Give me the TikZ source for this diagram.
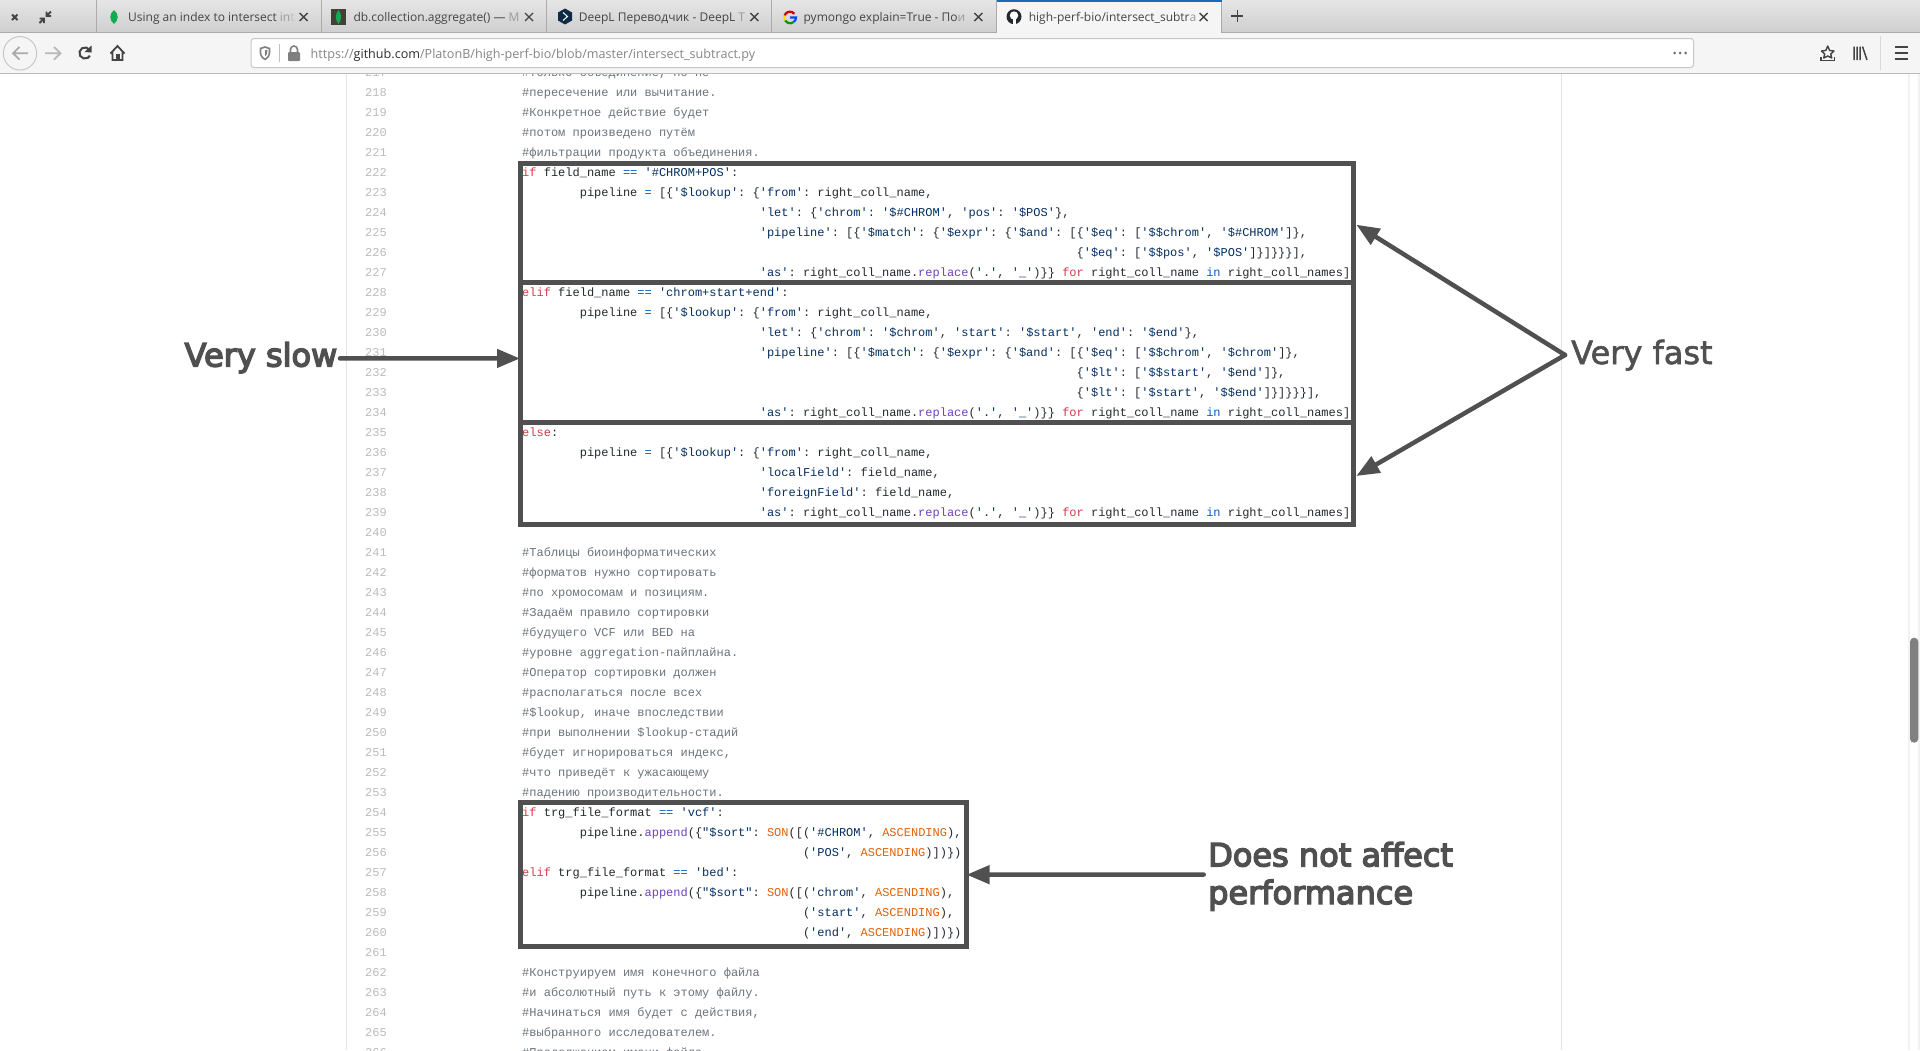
\documentclass[tikz,border=0pt]{standalone}
\usepackage{fontspec}
\usetikzlibrary{arrows.meta}
\newfontfamily\codefont{Liberation Mono}
\newfontfamily\uifont{Open Sans}
\newfontfamily\notefont[RawFeature={embolden=1.8}]{DejaVu Sans}
\newfontfamily\noteboldfont[RawFeature={embolden=4.5}]{DejaVu Sans}
\definecolor{notegray}{HTML}{505050}
\definecolor{keyred}{HTML}{D73A49}
\definecolor{opblue}{HTML}{005CC5}
\definecolor{strnavy}{HTML}{032F62}
\definecolor{fnpurple}{HTML}{6F42C1}
\definecolor{sonorange}{HTML}{E36209}
\definecolor{plaincode}{HTML}{24292E}
\definecolor{remgray}{HTML}{6A737D}
\definecolor{numgray}{HTML}{BBBCBD}
\definecolor{edgegray}{HTML}{E1E4E8}
\definecolor{barlight}{HTML}{F5F5F5}
\definecolor{stripedge}{HTML}{ABABAB}
\definecolor{uidark}{HTML}{444444}
\definecolor{leafgreen}{HTML}{13AA52}
\definecolor{deepnavy}{HTML}{0F2B46}
\newcommand{\kwd}[1]{\textcolor{keyred}{#1}}
\newcommand{\opr}[1]{\textcolor{opblue}{#1}}
\newcommand{\str}[1]{\textcolor{strnavy}{#1}}
\newcommand{\fnc}[1]{\textcolor{fnpurple}{#1}}
\newcommand{\son}[1]{\textcolor{sonorange}{#1}}
\newcommand{\fadeA}[1]{\textcolor{black!40}{#1}}
\newcommand{\fadeB}[1]{\textcolor{black!25}{#1}}
\newcommand{\aslinetext}{\str{'as'}: right\_coll\_name.\fnc{replace}(\str{'.'}, \str{'\_'})\}\} \kwd{for} right\_coll\_name \opr{in} right\_coll\_names]}
\newcommand{\pipelinetext}{pipeline \opr{=} [\{\str{'\$lookup'}: \{\str{'from'}: right\_coll\_name,}
\newcommand{\codeat}[3]{\node[codeline] (line#1) at ({522+7.2*#2},{176.6+20*(#1-222)}) {#3};}
\tikzset{
    codeline/.style={anchor=base west, inner sep=0pt, text=plaincode, font=\codefont\fontsize{12}{14}\selectfont\frenchspacing},
    remline/.style={codeline, text=remgray},
    numline/.style={anchor=base east, inner sep=0pt, text=numgray, font=\codefont\fontsize{12}{14}\selectfont},
    codebox/.style={draw=notegray, line width=5pt, inner sep=0pt},
    notearrow/.style={draw=notegray, line width=4.5pt, line cap=round, -{Triangle[length=23pt, width=18pt]}},
    notelabel/.style={inner sep=0pt, text=notegray, align=left},
    tabtitle/.style={anchor=base west, inner sep=0pt, text=uidark, font=\uifont\fontsize{12}{14}\selectfont},
    closemark/.style={draw=uidark, line width=1.4pt},
    tooltrace/.style={draw=uidark, line width=1.8pt},
}
\begin{document}
\begin{tikzpicture}[x=1pt, y=-1pt]
    \useasboundingbox (0,0) rectangle (1920,1050);
    \clip (0,0) rectangle (1920,1050);
    \fill[white] (0,0) rectangle (1920,1050);
    \draw[edgegray, line width=1pt] (346.5,70) -- (346.5,1050);
    \draw[edgegray, line width=1pt] (1561,70) -- (1561,1050);

    \foreach \n in {217,...,266}
        \node[numline] (num\n) at (387,{176.6+20*(\n-222)}) {\n};

    \foreach \n/\t in {217/{\#только объединение, но не},
                       218/{\#пересечение или вычитание.},
                       219/{\#Конкретное действие будет},
                       220/{\#потом произведено путём},
                       221/{\#фильтрации продукта объединения.},
                       241/{\#Таблицы биоинформатических},
                       242/{\#форматов нужно сортировать},
                       243/{\#по хромосомам и позициям.},
                       244/{\#Задаём правило сортировки},
                       245/{\#будущего VCF или BED на},
                       246/{\#уровне aggregation-пайплайна.},
                       247/{\#Оператор сортировки должен},
                       248/{\#располагаться после всех},
                       249/{\#\$lookup, иначе впоследствии},
                       250/{\#при выполнении \$lookup-стадий},
                       251/{\#будет игнорироваться индекс,},
                       252/{\#что приведёт к ужасающему},
                       253/{\#падению производительности.},
                       262/{\#Конструируем имя конечного файла},
                       263/{\#и абсолютный путь к этому файлу.},
                       264/{\#Начинаться имя будет с действия,},
                       265/{\#выбранного исследователем.},
                       266/{\#Продолжением имени файла}}
        \node[remline] (line\n) at (522,{176.6+20*(\n-222)}) {\t};

    \codeat{222}{0}{\kwd{if} field\_name \opr{==} \str{'\#CHROM+POS'}:}
    \codeat{223}{8}{\pipelinetext}
    \codeat{224}{33}{\str{'let'}: \{\str{'chrom'}: \str{'\$\#CHROM'}, \str{'pos'}: \str{'\$POS'}\},}
    \codeat{225}{33}{\str{'pipeline'}: [\{\str{'\$match'}: \{\str{'\$expr'}: \{\str{'\$and'}: [\{\str{'\$eq'}: [\str{'\$\$chrom'}, \str{'\$\#CHROM'}]\},}
    \codeat{226}{77}{\{\str{'\$eq'}: [\str{'\$\$pos'}, \str{'\$POS'}]\}]\}\}\}],}
    \codeat{227}{33}{\aslinetext}
    \codeat{228}{0}{\kwd{elif} field\_name \opr{==} \str{'chrom+start+end'}:}
    \codeat{229}{8}{\pipelinetext}
    \codeat{230}{33}{\str{'let'}: \{\str{'chrom'}: \str{'\$chrom'}, \str{'start'}: \str{'\$start'}, \str{'end'}: \str{'\$end'}\},}
    \codeat{231}{33}{\str{'pipeline'}: [\{\str{'\$match'}: \{\str{'\$expr'}: \{\str{'\$and'}: [\{\str{'\$eq'}: [\str{'\$\$chrom'}, \str{'\$chrom'}]\},}
    \codeat{232}{77}{\{\str{'\$lt'}: [\str{'\$\$start'}, \str{'\$end'}]\},}
    \codeat{233}{77}{\{\str{'\$lt'}: [\str{'\$start'}, \str{'\$\$end'}]\}]\}\}\}],}
    \codeat{234}{33}{\aslinetext}
    \codeat{235}{0}{\kwd{else}:}
    \codeat{236}{8}{\pipelinetext}
    \codeat{237}{33}{\str{'localField'}: field\_name,}
    \codeat{238}{33}{\str{'foreignField'}: field\_name,}
    \codeat{239}{33}{\aslinetext}
    \codeat{254}{0}{\kwd{if} trg\_file\_format \opr{==} \str{'vcf'}:}
    \codeat{255}{8}{pipeline.\fnc{append}(\{\str{"\$sort"}: \son{SON}([(\str{'\#CHROM'}, \son{ASCENDING}),}
    \codeat{256}{39}{(\str{'POS'}, \son{ASCENDING})])\})}
    \codeat{257}{0}{\kwd{elif} trg\_file\_format \opr{==} \str{'bed'}:}
    \codeat{258}{8}{pipeline.\fnc{append}(\{\str{"\$sort"}: \son{SON}([(\str{'chrom'}, \son{ASCENDING}),}
    \codeat{259}{39}{(\str{'start'}, \son{ASCENDING}),}
    \codeat{260}{39}{(\str{'end'}, \son{ASCENDING})])\})}

    \node[codebox, minimum width=833.5pt, minimum height=119.5pt] (fastboxA) at (936.75,222.75) {};
    \node[codebox, minimum width=833.5pt, minimum height=139.5pt] (slowbox) at (936.75,352.25) {};
    \node[codebox, minimum width=833.5pt, minimum height=102pt] (fastboxB) at (936.75,473) {};
    \node[codebox, minimum width=446.5pt, minimum height=144pt] (sortbox) at (743.25,874) {};

    \node[notelabel, anchor=base east, font=\noteboldfont\fontsize{32}{38}\selectfont] (slowlabel) at (337.5,366.5) {Very slow};
    \node[notelabel, anchor=base west, font=\notefont\fontsize{32}{38}\selectfont] (fastlabel) at (1571,364) {Very fast};
    \node[notelabel, anchor=base west, font=\noteboldfont\fontsize{32}{37.7}\selectfont] (sortlabel) at (1208,904) {Does not affect\\performance};

    \draw[notearrow] ([xshift=2.5pt, yshift=-.7pt]slowlabel.east) -- ([xshift=2.5pt, yshift=-6.2pt]slowbox.west);
    \coordinate (fastjoin) at (1565,355);
    \draw[notearrow] (fastjoin) -- ([xshift=.3pt, yshift=-1.9pt]fastboxA.east);
    \draw[notearrow] (fastjoin) -- ([xshift=.3pt, yshift=-3pt]fastboxB.east);
    \draw[notearrow] ([xshift=-4.3pt, yshift=1.8pt]sortlabel.west) -- ([xshift=-2.5pt, yshift=-.7pt]sortbox.east);

    \fill[barlight] (0,33) rectangle (1920,73);
    \draw[stripedge!80, line width=1pt] (0,73.5) -- (1920,73.5);
    \shade[top color=black!10, bottom color=black!19] (0,0) rectangle (1920,32.5);
    \draw[stripedge, line width=1pt] (0,32.5) -- (1920,32.5);
    \foreach \sx in {96,321.5,546.5,771.5}
        \draw[stripedge, line width=.8pt] (\sx,0) -- (\sx,32);
    \fill[barlight] (996.5,0) rectangle (1221.5,33);
    \draw[stripedge, line width=.8pt] (996.5,0) -- (996.5,33);
    \draw[stripedge, line width=.8pt] (1221.5,0) -- (1221.5,33);
    \fill[blue!50!cyan!70!black!90] (996.5,0) rectangle (1221.5,2);

    \node[tabtitle] (tabA) at (128,21) {Using an index to intersect \fadeA{i}\fadeA{n}\fadeB{t}};
    \node[tabtitle] (tabB) at (353.3,21) {db.collection.aggregate() — \fadeA{M}};
    \node[tabtitle] (tabC) at (578.7,21) {DeepL Переводчик - DeepL \fadeA{T}};
    \node[tabtitle] (tabD) at (803.4,21) {pymongo explain=True - По\fadeA{и}};
    \node[tabtitle] (tabE) at (1028.6,21) {high-perf-bio/intersect\_subtr\fadeA{a}};

    \foreach \cx in {303.7,529,754.4,978.4,1203.7}
        \draw[closemark, shift={(\cx,17)}] (-4,-4) -- (4,4) (-4,4) -- (4,-4);
    \draw[tooltrace, line width=1.5pt] (1237.4,10) -- (1237.4,22) (1231.4,16) -- (1243.4,16);
    \draw[tooltrace, line width=2pt] (12,14.5) -- (17.5,20) (12,20) -- (17.5,14.5);
    \draw[tooltrace] (51,11.5) -- (46.5,16) (46.5,11.5) -- (46.5,16) -- (51,16);
    \draw[tooltrace] (39.5,23) -- (44,18.5) (39.5,18.5) -- (44,18.5) -- (44,23);

    \fill[leafgreen] (114,10) .. controls (119,14) and (119,20) .. (114,24) .. controls (109,20) and (109,14) .. (114,10);
    \fill[black!85!yellow] (331,9) rectangle (346,25);
    \fill[leafgreen] (338.5,10) .. controls (342,14) and (342,20) .. (338.5,24) .. controls (335,20) and (335,14) .. (338.5,10);
    \fill[deepnavy] (565,8.5) -- (572,12.5) -- (572,20.5) -- (565,24.5) -- (558,20.5) -- (558,12.5) -- cycle;
    \draw[white, line width=1pt] (563,12.5) -- (567.5,16.5) -- (563,20.5);
    \draw[red!80!black, line width=2.2pt] (790,17.5) ++(200:5.8) arc (200:320:5.8);
    \draw[blue!70!cyan, line width=2.2pt] (790,17.5) -- (796,17.5) arc (0:50:5.8);
    \draw[green!60!black, line width=2.2pt] (790,17.5) ++(50:5.8) arc (50:150:5.8);
    \draw[yellow!80!orange, line width=2.2pt] (790,17.5) ++(150:5.8) arc (150:200:5.8);
    \fill[plaincode] (1014,16.7) circle (7.5);
    \fill[white] (1014,15.5) circle (4.2);
    \fill[white] (1012.5,18) rectangle (1015.5,24.5);

    \fill[white, draw=black!22, line width=1pt, rounded corners=3pt] (251,38.5) rectangle (1693.5,67.5);
    \fill[barlight, draw=black!22, line width=1pt] (20,53.3) circle (16.7);
    \draw[black!33, line width=1.8pt] (28,53.3) -- (13,53.3) (19.5,47) -- (13,53.3) -- (19.5,59.6);
    \draw[black!28, line width=1.8pt] (45,53.3) -- (60.5,53.3) (54,47) -- (60.5,53.3) -- (54,59.6);
    \draw[tooltrace, line width=2pt] (85,53) ++(-30:5.6) arc (-30:-330:5.6);
    \fill[uidark] (91.5,45.5) -- (91.5,52.5) -- (84.5,52) -- cycle;
    \draw[tooltrace, line join=miter] (110.5,53.5) -- (117.5,46) -- (124.5,53.5) (112.5,52) -- (112.5,60) -- (122.5,60) -- (122.5,52);
    \fill[uidark] (115.5,54) rectangle (119.5,60);

    \draw[black!50, line width=1.6pt, line join=round] (260.5,48.5) -- (265,47) -- (269.5,48.5) -- (269.5,53) .. controls (269,56.5) and (267,58.5) .. (265,59.5) .. controls (263,58.5) and (261,56.5) .. (260.5,53) -- cycle;
    \fill[black!50] (265,50) -- (267.5,50) -- (267,54) -- (265,56.5) -- cycle;
    \draw[black!25, line width=1pt] (279,44) -- (279,62);
    \fill[black!50, rounded corners=1pt] (288,52) rectangle (300,61);
    \draw[black!50, line width=1.6pt] (290.5,52) -- (290.5,49.5) arc (180:360:3.5) -- (297.5,52);

    \node[anchor=base west, inner sep=0pt, text=black!48, font=\uifont\fontsize{12.6}{15}\selectfont] (urltext) at (310.5,58) {https://\textcolor{black!82}{github.com}/PlatonB/high-perf-bio/blob/master/intersect\_subtract.py};

    \foreach \dx in {1674.5,1680,1685.5}
        \fill[black!55] (\dx,53) circle (1.5);
    \draw[tooltrace, line width=1.4pt, line join=round] (1827.7,46) -- (1829.6,50.5) -- (1834,51) -- (1830.7,54) -- (1831.7,58) -- (1827.7,56) -- (1823.7,58) -- (1824.7,54) -- (1821.4,51) -- (1825.8,50.5) -- cycle;
    \draw[tooltrace, line width=1.4pt] (1821,57) -- (1821,60.5) -- (1834.5,60.5) -- (1834.5,57);
    \draw[tooltrace, line width=1.5pt] (1854,46.5) -- (1854,60) (1857,46.5) -- (1857,60) (1860,46.5) -- (1860,60) (1862.5,46.5) -- (1867,60);
    \draw[black!15, line width=1pt] (1880,36) -- (1880,70);
    \draw[tooltrace, line width=2pt] (1895,47.3) -- (1908,47.3) (1895,53.3) -- (1908,53.3) (1895,59) -- (1908,59);

    \fill[black!5] (1908,74) rectangle (1909.5,1050);
    \fill[black!5] (1918,74) rectangle (1920,1050);
    \fill[black!50, rounded corners=4pt] (1910,637.7) rectangle (1918.3,742.7);
\end{tikzpicture}
\end{document}
